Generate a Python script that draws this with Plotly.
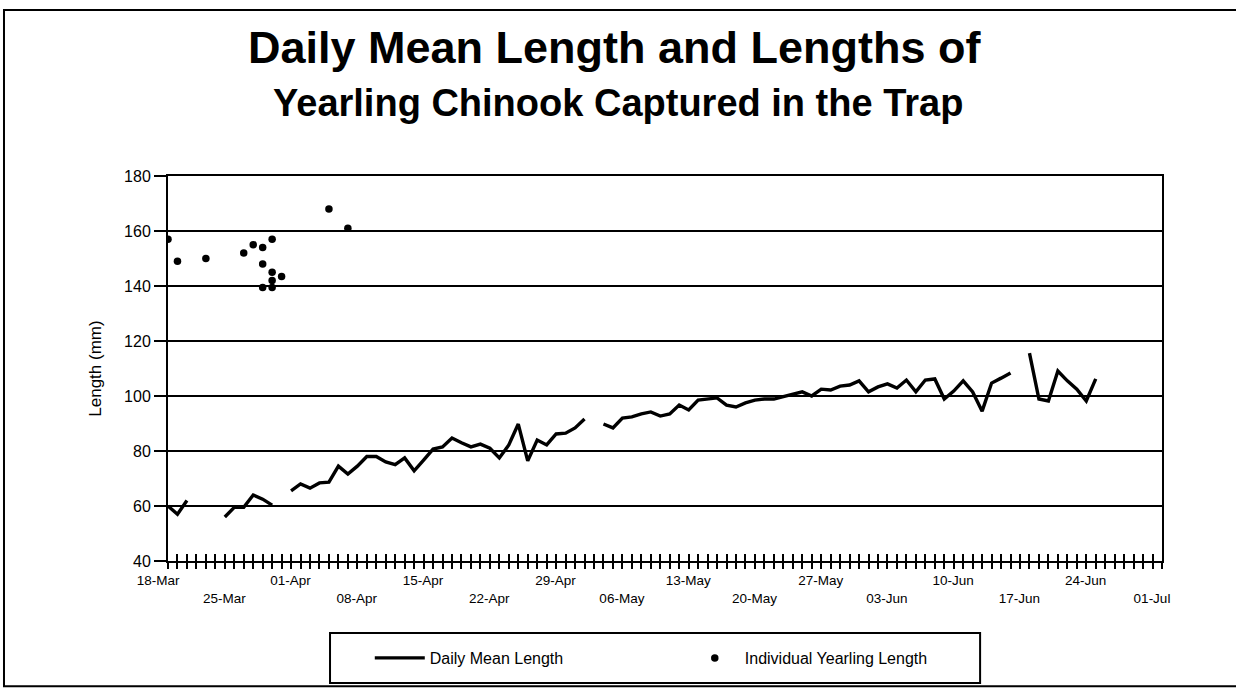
import plotly.graph_objects as go
import pandas as pd

# ---------------- data ----------------
start_date = "2001-03-18"
end_date = "2001-07-01"

# daily mean length (mm), one value per day from 18-Mar to 24-Jun; None = no data
mean_length = [
    60, 57, 62, None, None, None, 56, 59.5, 59.5, 64,
    62.5, 60.3, None, 65.5, 68, 66.5, 68.4, 68.7, 74.5, 71.6,
    74.5, 78, 78, 76, 75, 77.5, 72.8, 76.7, 80.7, 81.5,
    84.7, 83, 81.5, 82.5, 81, 77.5, 82.2, 89.8, 76.4, 84,
    82.2, 86.2, 86.5, 88.4, 91.6, None, 89.8, 88.4, 92, 92.4,
    93.5, 94.2, 92.7, 93.5, 96.7, 94.9, 98.5, 99, 99.3, 96.7,
    96, 97.5, 98.5, 98.9, 98.9, 99.8, 100.7, 101.5, 100, 102.5,
    102.2, 103.6, 104, 105.5, 101.5, 103.3, 104.4, 102.9, 105.8, 101.5,
    105.8, 106.2, 98.9, 101.8, 105.5, 101.5, 94.5, 104.7, 106.5, 108.4,
    None, 115.6, 98.9, 98.2, 109.1, 105.5, 102.5, 98.2, 106.2,
]
mean_dates = pd.date_range(start_date, periods=len(mean_length), freq="D")

# individual yearling lengths
ind_dates = ["2001-03-18", "2001-03-19", "2001-03-22", "2001-03-26", "2001-03-27",
             "2001-03-28", "2001-03-29", "2001-03-28", "2001-03-29", "2001-03-30",
             "2001-03-29", "2001-03-28", "2001-03-29", "2001-04-04", "2001-04-06"]
ind_length = [157, 149, 150, 152, 155,
              154, 157, 148, 145, 143.5,
              142, 139.5, 139.5, 168, 161]

tick_dates = pd.date_range(start_date, end_date, freq="7D")
tick_labels = [d.strftime("%d-%b") for d in tick_dates]
tick_text = [t if i % 2 == 0 else "<br>" + t for i, t in enumerate(tick_labels)]

FONT = "Liberation Sans, Arial, sans-serif"

fig = go.Figure()
fig.add_trace(go.Scatter(
    x=mean_dates, y=mean_length, mode="lines", name="Daily Mean Length",
    line=dict(color="black", width=3.4), connectgaps=False,
))
fig.add_trace(go.Scatter(
    x=ind_dates, y=ind_length, mode="markers", name="Individual Yearling Length",
    marker=dict(color="black", size=7.5, symbol="circle"),
))

x_range = [start_date, end_date]
fig.update_layout(
    width=1236, height=688,
    margin=dict(l=168, r=74, t=176, b=127),
    paper_bgcolor="white", plot_bgcolor="white",
    font=dict(family=FONT, color="black", size=12),
    showlegend=True,
    legend=dict(
        orientation="h", x=0.203, y=-0.252, xanchor="left", yanchor="middle",
        borderwidth=0, bgcolor="rgba(0,0,0,0)",
        font=dict(size=16, family=FONT), entrywidth=250, entrywidthmode="pixels",
        itemwidth=50,
    ),
    xaxis=dict(
        type="date", range=x_range,
        tickvals=list(tick_dates), ticktext=tick_text,
        ticks="outside", ticklen=6, tickwidth=1.5, tickcolor="black",
        minor=dict(ticks="outside", dtick=86400000, tick0=start_date, ticklen=6,
                   tickwidth=1.5, tickcolor="black", showgrid=False),
        showline=True, linecolor="black", linewidth=2, mirror=True,
        showgrid=False, zeroline=False,
        tickfont=dict(size=13.5, family=FONT), tickangle=0,
        ticklabelshift=-10,
    ),
    xaxis2=dict(
        type="date", range=x_range, overlaying="x", anchor="y", side="bottom",
        ticks="inside", ticklen=7, tickwidth=1.5, tickcolor="black",
        dtick=86400000, tick0=start_date, showticklabels=False,
        showgrid=False, showline=False, zeroline=False,
    ),
    yaxis=dict(
        range=[40, 180], dtick=20, tick0=40,
        ticks="outside", ticklen=12, tickwidth=1.5, tickcolor="black",
        showline=True, linecolor="black", linewidth=2, mirror=True,
        showgrid=True, gridcolor="black", gridwidth=1.5, zeroline=False,
        tickfont=dict(size=16, family=FONT),
        title=dict(text="Length (mm)", font=dict(size=17, family=FONT), standoff=18),
    ),
)

# invisible trace to activate xaxis2
fig.add_trace(go.Scatter(x=[start_date], y=[None], xaxis="x2", showlegend=False,
                         hoverinfo="skip", mode="lines"))

fig.add_annotation(text="<b>Daily Mean Length and Lengths of</b>", xref="paper", yref="paper",
                   x=0.45, y=1.335, xanchor="center", yanchor="middle", showarrow=False,
                   font=dict(size=45, family=FONT, color="black"))
fig.add_annotation(text="<b>Yearling Chinook Captured in the Trap</b>", xref="paper", yref="paper",
                   x=0.453, y=1.19, xanchor="center", yanchor="middle", showarrow=False,
                   font=dict(size=38, family=FONT, color="black"))

# outer frame
fig.add_shape(type="rect", xref="paper", yref="paper",
              x0=-0.165, x1=1.1, y0=-0.325, y1=1.431,
              line=dict(color="black", width=2), fillcolor="rgba(0,0,0,0)", layer="below")
# legend box
fig.add_shape(type="rect", xref="paper", yref="paper",
              x0=0.163, x1=0.817, y0=-0.317, y1=-0.187,
              line=dict(color="black", width=2), fillcolor="white", layer="below")

fig.write_html("out.html", config={"displayModeBar": False},
               post_script="document.body.style.margin='0';")
